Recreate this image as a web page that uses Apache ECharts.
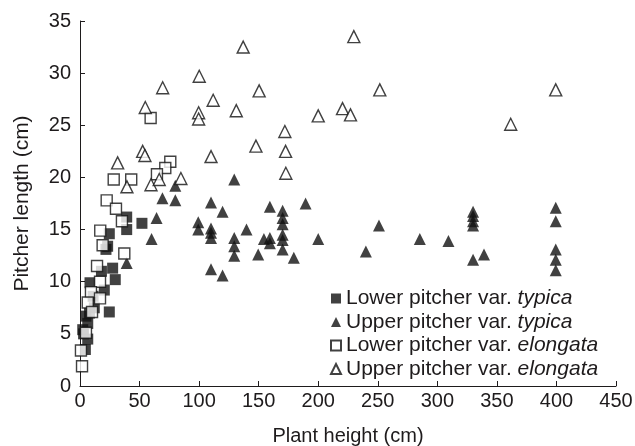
<!DOCTYPE html>
<html><head><meta charset="utf-8">
<script src="https://cdn.jsdelivr.net/npm/echarts@6/dist/echarts.min.js"></script>
<style>html,body{margin:0;padding:0;background:#fff}#c{width:635px;height:446px}</style>
</head><body><div id="c"></div>
<script>
const xTicks = [0,50,100,150,200,250,300,350,400,450];
const yTicks = [0,5,10,15,20,25,30,35];
const seriesNames = ['Lower pitcher var. typica','Upper pitcher var. typica','Lower pitcher var. elongata','Upper pitcher var. elongata'];

const lowerTypica = [[39.2,16.2],[39.2,15.0],[52,15.6],[24.6,14.6],[23.2,13.4],[21.8,13.1],[27.4,11.3],[29.6,10.2],[8.4,9.9],[20.4,9.2],[12,7.5],[24.6,7.1],[5,6.7],[6.5,6.0],[2.3,5.4],[6.5,4.5],[4.5,3.5],[18,11.0],[11,8.6],[8,7.0],[3,5.0]];
const upperTypica = [[69.2,18.0],[80,19.2],[80,17.8],[64.3,16.1],[60.1,14.1],[39.2,11.8],[129.5,19.8],[110,17.6],[119.7,16.7],[99.3,15.7],[99.3,15.0],[110,15.1],[110,14.7],[110,14.2],[129.5,14.2],[129.5,13.4],[129.5,12.5],[139.8,15.0],[149.6,12.6],[110,11.2],[119.7,10.6],[159.4,17.2],[154.4,14.1],[159.4,14.2],[159.4,13.7],[170.1,16.8],[170.1,16.1],[170.1,15.5],[170.1,14.5],[170.1,14.0],[170.1,13.1],[179.5,12.3],[189.4,17.5],[200,14.1],[251,15.4],[240,12.9],[285.3,14.1],[309.3,13.9],[330,16.7],[330,16.3],[330,15.8],[330,15.4],[330,12.1],[339.2,12.6],[399.4,17.1],[399.4,15.8],[399.4,13.1],[399.4,12.1],[399.4,11.1]];
const lowerElongata = [[28.3,19.8],[43,19.8],[75.8,21.5],[71.6,20.9],[64.6,20.3],[22.4,17.8],[30.2,17.0],[35.2,15.8],[17,14.9],[19,13.5],[37.2,12.7],[59.3,25.7],[14.3,11.5],[16.8,10.0],[9.2,9.0],[16.8,8.4],[6.5,8.0],[10.1,7.1],[5,5.1],[0.8,3.4],[1.7,1.9]];
const upperElongata = [[31.6,21.4],[39.4,19.1],[52.6,22.5],[54.5,22.1],[54.8,26.7],[59.6,19.3],[66.5,19.8],[69.4,28.6],[84.7,19.9],[100.1,29.7],[99.6,26.2],[99.6,25.6],[110,22.0],[111.8,27.4],[131.2,26.4],[137,32.5],[147.7,23.0],[150.4,28.3],[172,24.4],[172.6,22.5],[172.8,20.4],[200,25.9],[220.4,26.6],[227.1,26.0],[229.9,33.5],[251.7,28.4],[361.6,25.1],[399.4,28.4]];

const chart = echarts.init(document.getElementById('c'));
const txt = '#1e1b1c';
const fontFam = 'Liberation Sans, Arial, sans-serif';
function axisCommon(margin){
  return {
    axisLine:{show:true,onZero:false,lineStyle:{color:txt,width:1}},
    axisTick:{show:true,inside:true,length:5,lineStyle:{color:txt}},
    splitLine:{show:false},
    axisLabel:{color:txt,fontSize:20,fontFamily:fontFam,margin:margin},
    nameTextStyle:{color:txt,fontSize:20,fontFamily:fontFam}
  };
}
const openStyle = {color:'#fff',borderColor:'#111',borderWidth:1.4};
const fillStyle = {color:'#111',borderColor:'#111',borderWidth:0};
chart.setOption({
  animation:false,
  grid:{left:80,right:19,top:21,bottom:60,containLabel:false,outerBoundsMode:'none'},
  xAxis:Object.assign(axisCommon(5),{type:'value',min:xTicks[0],max:xTicks[xTicks.length-1],interval:50,
    name:'Plant height (cm)',nameLocation:'middle',nameGap:40}),
  yAxis:Object.assign(axisCommon(9),{type:'value',min:yTicks[0],max:yTicks[yTicks.length-1],interval:5,
    name:'Pitcher length (cm)',nameLocation:'middle',nameGap:47,
    nameTextStyle:{color:txt,fontSize:21,fontFamily:fontFam}}),
  legend:{
    orient:'vertical',left:330,top:288,padding:0,itemWidth:10,itemHeight:10,itemGap:2.5,
    data:seriesNames,
    textStyle:{color:txt,fontSize:21,lineHeight:19,fontFamily:fontFam,
      rich:{i:{fontStyle:'italic',fontSize:21,lineHeight:19,color:txt,fontFamily:fontFam}}},
    formatter:function(n){const k=n.lastIndexOf(' ');return n.slice(0,k+1)+'{i|'+n.slice(k+1)+'}';}
  },
  series:[
    {name:seriesNames[0],type:'scatter',data:lowerTypica,symbol:'rect',symbolSize:11,itemStyle:fillStyle},
    {name:seriesNames[1],type:'scatter',data:upperTypica,symbol:'triangle',symbolSize:12,itemStyle:fillStyle},
    {name:seriesNames[2],type:'scatter',data:lowerElongata,symbol:'rect',symbolSize:11,itemStyle:openStyle},
    {name:seriesNames[3],type:'scatter',data:upperElongata,symbol:'triangle',symbolSize:12,itemStyle:openStyle}
  ]
});
</script></body></html>
